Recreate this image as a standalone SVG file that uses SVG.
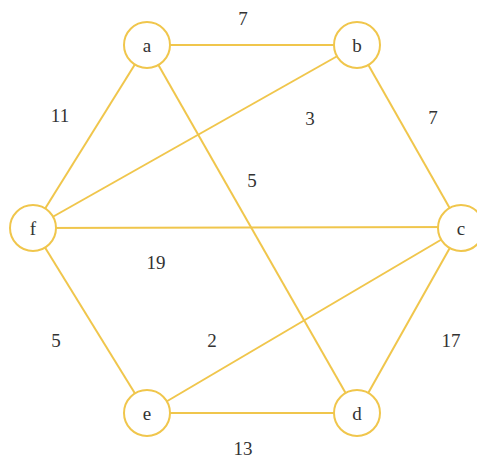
<svg xmlns="http://www.w3.org/2000/svg" width="477" height="459" viewBox="0 0 477 459">
<style>
.e{stroke:#f0c64c;stroke-width:2;fill:none}
.n circle{fill:#fff;stroke:#f0c64c;stroke-width:2}
text{font-family:"Liberation Serif","DejaVu Serif",serif;font-size:19px;fill:#333;text-anchor:middle;dominant-baseline:central}
</style>
<rect width="477" height="459" fill="#fff"/>
<g id="edges">
<line class="e" x1="147" y1="45" x2="357" y2="45"/>
<line class="e" x1="357" y1="45" x2="461" y2="228"/>
<line class="e" x1="461" y1="228" x2="357" y2="413"/>
<line class="e" x1="357" y1="413" x2="147" y2="413"/>
<line class="e" x1="147" y1="413" x2="33" y2="228"/>
<line class="e" x1="33" y1="228" x2="147" y2="45"/>
<line class="e" x1="33" y1="228" x2="357" y2="45"/>
<line class="e" x1="33" y1="228" x2="461" y2="227"/>
<line class="e" x1="147" y1="45" x2="357" y2="413"/>
<line class="e" x1="461" y1="228" x2="147" y2="413"/>
</g>
<g id="labels">
<text x="243" y="18">7</text>
<text x="60" y="115">11</text>
<text x="310" y="118">3</text>
<text x="433" y="117">7</text>
<text x="252" y="180">5</text>
<text x="156" y="262">19</text>
<text x="56" y="340">5</text>
<text x="212" y="340">2</text>
<text x="451" y="340">17</text>
<text x="243" y="448">13</text>
</g>
<g id="a" class="n"><circle cx="147" cy="45" r="23"/><text x="147" y="45">a</text></g>
<g id="b" class="n"><circle cx="357" cy="45" r="23"/><text x="357" y="45">b</text></g>
<g id="c" class="n"><circle cx="461" cy="228" r="23"/><text x="461" y="228">c</text></g>
<g id="d" class="n"><circle cx="357" cy="413" r="23"/><text x="357" y="413">d</text></g>
<g id="e" class="n"><circle cx="147" cy="413" r="23"/><text x="147" y="413">e</text></g>
<g id="f" class="n"><circle cx="33" cy="228" r="23"/><text x="33" y="228">f</text></g>
</svg>
